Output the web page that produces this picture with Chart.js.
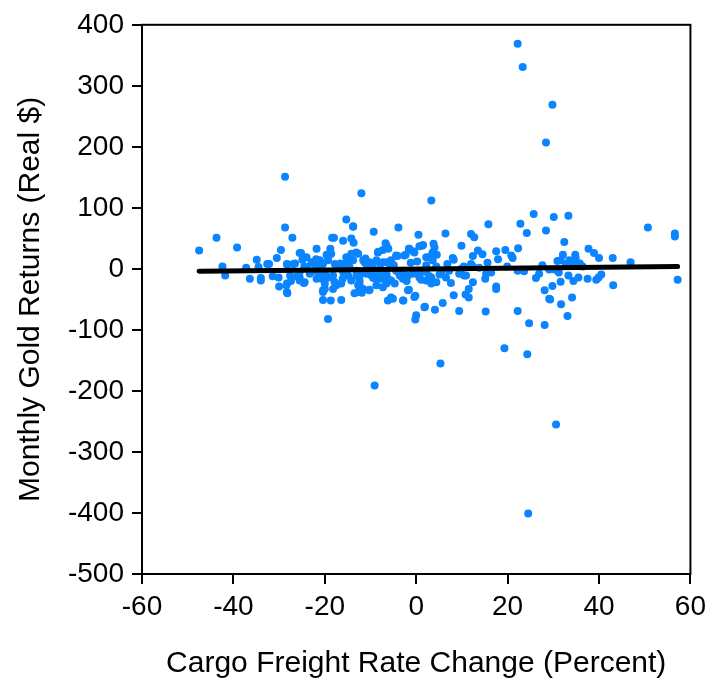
<!DOCTYPE html>
<html>
<head>
<meta charset="utf-8">
<script src="https://cdn.jsdelivr.net/npm/chart.js@4.4.0/dist/chart.umd.min.js"></script>
<style>
html,body{margin:0;padding:0;background:#fff;}
#wrap{width:712px;height:684px;}
</style>
</head>
<body>
<div id="wrap"><canvas id="c" width="712" height="684"></canvas></div>
<script>
// Cargo freight rate change (percent)
const freightChange = [
22.2,23.3,29.8,28.4,-28.7,-12,3.3,24.5,30.6,-9.1,5.3,19.3,24.3,
-47.5,-43.7,-39.2,-28.7,-27.1,-42.4,-41.8,-29.6,-25.5,-30.5,-34.9,-34.5,-32.6,-32.2,-36.4,-34,-34,-30.1,-30,-28.2,-28.4,-27.4,-24.6,-28.2,-26.5,-24,-27.6,-25.5,-24.5,
-15.3,-13.8,-9.3,-3.9,0.5,-18.4,-18,-16,-14.2,-13.7,-21.8,-18.8,-6.7,-6.1,-7.3,-8.3,-4.1,-1.6,-0.7,0.7,1.5,-2.3,-25.2,-19.6,-19.3,-21.9,-20.9,-14.6,-13.1,-13.8,-11.6,-10.9,-8.7,-6.5,-5.5,-16.7,-15.6,-25.5,-23.3,-24.4,-21.8,-21.1,-19.3,-18.2,-20,-20.4,-18.2,-17.5,-16.4,-16.1,-20.4,-18.7,-16.4,-13.5,-11.9,-12.7,-12.4,-10.2,-10.9,-9.8,-8.7,-7.6,-7.3,-6.2,-5.5,-4.7,-2.8,-1.6,-0.2,0,-0.2,1.9,-19.3,-2.9,-0.7,0.7,2.2,-4.4,-3.6,-14.6,-13.1,-12.4,-6.5,-6.2,-8.7,-16,-14.9,
-28.3,-26.9,-22.9,-22.2,-21.1,-20.4,-18.6,-19.3,-15.3,-14.2,-12.7,-17.8,-11.3,-10.2,-7.3,-5.8,-8.4,-6.5,-4.4,-2.6,-1.5,-0.4,2.2,3.6,3.6,-13.8,-28.3,-28.3,-25.5,-20.7,-20,-20.4,-14.2,-13.1,-12.4,-12.7,-11.6,-10.3,-10.2,-8.7,-8.7,-6.5,-5.5,-5.1,-2.9,-2.9,-1.8,0.7,2.2,3.3,4.4,-1.8,-0.4,1.8,
25.7,15.8,22.8,24.2,28.4,6.4,12,12.7,1.3,3.8,4,9.9,3.3,4.5,3.3,8,8.2,12.4,13.5,14.5,17.5,17.9,19.5,20.8,21.1,22.3,15.6,6.8,4.4,2.2,0.7,2.9,3.3,5.5,6.5,7.6,9.4,10.5,12.4,15.1,15.3,17.5,17.5,11.5,11.5,10.8,8.2,4.1,5.8,9.4,15.2,22.2,24.7,28.1,28.1,29.1,22.2,23.6,26.9,27.6,9.8,10.9,10.4,12,12.4,
30.1,33.3,32.4,50.7,56.6,56.6,57.2,37.7,38.9,40,43,46.9,32.1,30.9,34.8,34.9,33.5,34.2,32.7,31.6,29.1,30.2,33.3,34.4,35.5,37.5,39.4,39.9,40.5,43.1,29.8,31.6,29.3,31.7,34.1,33.1,35.3,36.4,
-23.8,-22.5,-19.9,-17.2,-15.9,-14.8,-11.8,-9.6,-8.1,-4.9,-3.2,-1.2,1.1,-26.1,-24.9,-21.6,-17.9,-16.6,-12.9,-11.1,-9.4,-7.9,-3.8,-2.1,0.2,5.1,7.2,13.8,16.4,19.9,26.2,31.2,35.8,-37.2,-31.4
];
// Monthly gold returns (real $)
const goldReturns = [
369,331,269,207,151,124,112,-401,-255,-191,-155,-130,-140,
30,51,35,68,51,4,-11,31,26,18,15,3,8,8,-16,-15,-19,-14,-29,-40,-27,-20,-23,7,9,19,-11,-14,4,
81,70,61,68,56,51,51,46,50,43,33,33,42,33,31,28,21,33,29,37,39,23,26,23,14,16,11,19,27,14,14,8,14,11,14,6,8,-5,-8,-22,-16,-11,-14,-11,-33,-38,-33,-27,-24,-16,-51,-52,-51,-40,-39,-27,-19,-34,-8,-11,-3,-16,-30,-52,-47,-24,-52,-34,-44,-76,-83,-62,-82,-3,-8,-3,-5,-3,-11,3,-3,-11,-8,-16,-16,-5,-11,
8,8,11,8,14,8,25,19,19,25,25,8,11,11,11,8,27,38,22,22,33,27,19,14,27,69,-24,-38,-19,-16,-24,-35,-19,-11,-24,-38,-33,-35,-8,-14,-27,-24,-19,-49,-52,-16,-11,-11,-19,-14,-22,-35,-46,-63,
90,73,74,59,63,58,57,52,38,41,35,38,22,23,17,18,15,21,30,24,29,16,31,22,18,34,10,8,4,6,-14,-12,-24,-5,-14,-23,-8,-11,-22,-16,-8,-29,-33,-33,-47,-42,-43,-67,-56,-69,-70,-69,-89,-92,-35,-49,-3,-4,-8,6,0,-11,4,8,4,
85,87,44,68,58,53,-18,33,26,18,18,11,23,13,23,18,14,11,8,14,-1,-1,-11,-20,-14,-16,-18,-14,-9,-27,-28,-21,-50,-58,-47,-77,6,4,
3,-4,-7,5,-2,12,-6,4,-9,6,-13,10,-18,-12,15,2,-21,9,-4,17,-15,7,-6,-20,12,-9,-3,2,-6,4,-15,-6,9,2,-12
];
// Fitted regression line end points
const fitX = [-47.5, 57.2];
const fitY = [-3.8, 4.0];
// Axis tick settings
const xTicks = [-60, -40, -20, 0, 20, 40, 60];
const yTicks = [400, 300, 200, 100, 0, -100, -200, -300, -400, -500];

const pts = freightChange.map((x, i) => ({x: x, y: goldReturns[i]}));
const fit = fitX.map((x, i) => ({x: x, y: fitY[i]}));

const frame = {
  id: 'frame',
  afterDraw(chart) {
    const {ctx, chartArea: a} = chart;
    ctx.save();
    ctx.strokeStyle = '#000';
    ctx.lineWidth = 2;
    ctx.strokeRect(a.left, a.top, a.right - a.left, a.bottom - a.top);
    ctx.restore();
  }
};

const tickFont = {family: '"Liberation Sans", Arial, sans-serif', size: 28};
const titleFont = {family: '"Liberation Sans", Arial, sans-serif', size: 30};

new Chart(document.getElementById('c'), {
  type: 'scatter',
  data: {
    datasets: [
      {
        type: 'line',
        data: fit,
        borderColor: '#000',
        borderWidth: 5,
        borderCapStyle: 'round',
        pointRadius: 0,
        fill: false,
        order: 0
      },
      {
        data: pts,
        backgroundColor: '#0a84ff',
        borderWidth: 0,
        pointRadius: 4,
        pointHoverRadius: 4,
        order: 1
      }
    ]
  },
  options: {
    responsive: false,
    animation: false,
    devicePixelRatio: 1,
    layout: {padding: {left: 0, right: 20, top: 24, bottom: 0}},
    plugins: {legend: {display: false}, tooltip: {enabled: false}},
    scales: {
      x: {
        type: 'linear',
        min: -60, max: 60,
        afterFit(s) { s.height = 110; },
        afterBuildTicks(s) { s.ticks = xTicks.map(v => ({value: v})); },
        ticks: {font: tickFont, color: '#000', padding: 6, maxRotation: 0},
        grid: {drawOnChartArea: false, drawTicks: true, tickLength: 10, color: '#000', lineWidth: 2},
        border: {display: true, color: '#000', width: 2},
        title: {display: true, text: 'Cargo Freight Rate Change (Percent)', font: titleFont, color: '#000', padding: {top: 0, bottom: 2}}
      },
      y: {
        type: 'linear',
        min: -500, max: 400,
        afterFit(s) { s.width = 142; },
        afterBuildTicks(s) { s.ticks = yTicks.map(v => ({value: v})); },
        ticks: {font: tickFont, color: '#000', padding: 8},
        grid: {drawOnChartArea: false, drawTicks: true, tickLength: 10, color: '#000', lineWidth: 2},
        border: {display: true, color: '#000', width: 2},
        title: {display: true, text: 'Monthly Gold Returns (Real $)', font: titleFont, color: '#000', padding: {top: 13, bottom: 0}}
      }
    }
  },
  plugins: [frame]
});
</script>
</body>
</html>
